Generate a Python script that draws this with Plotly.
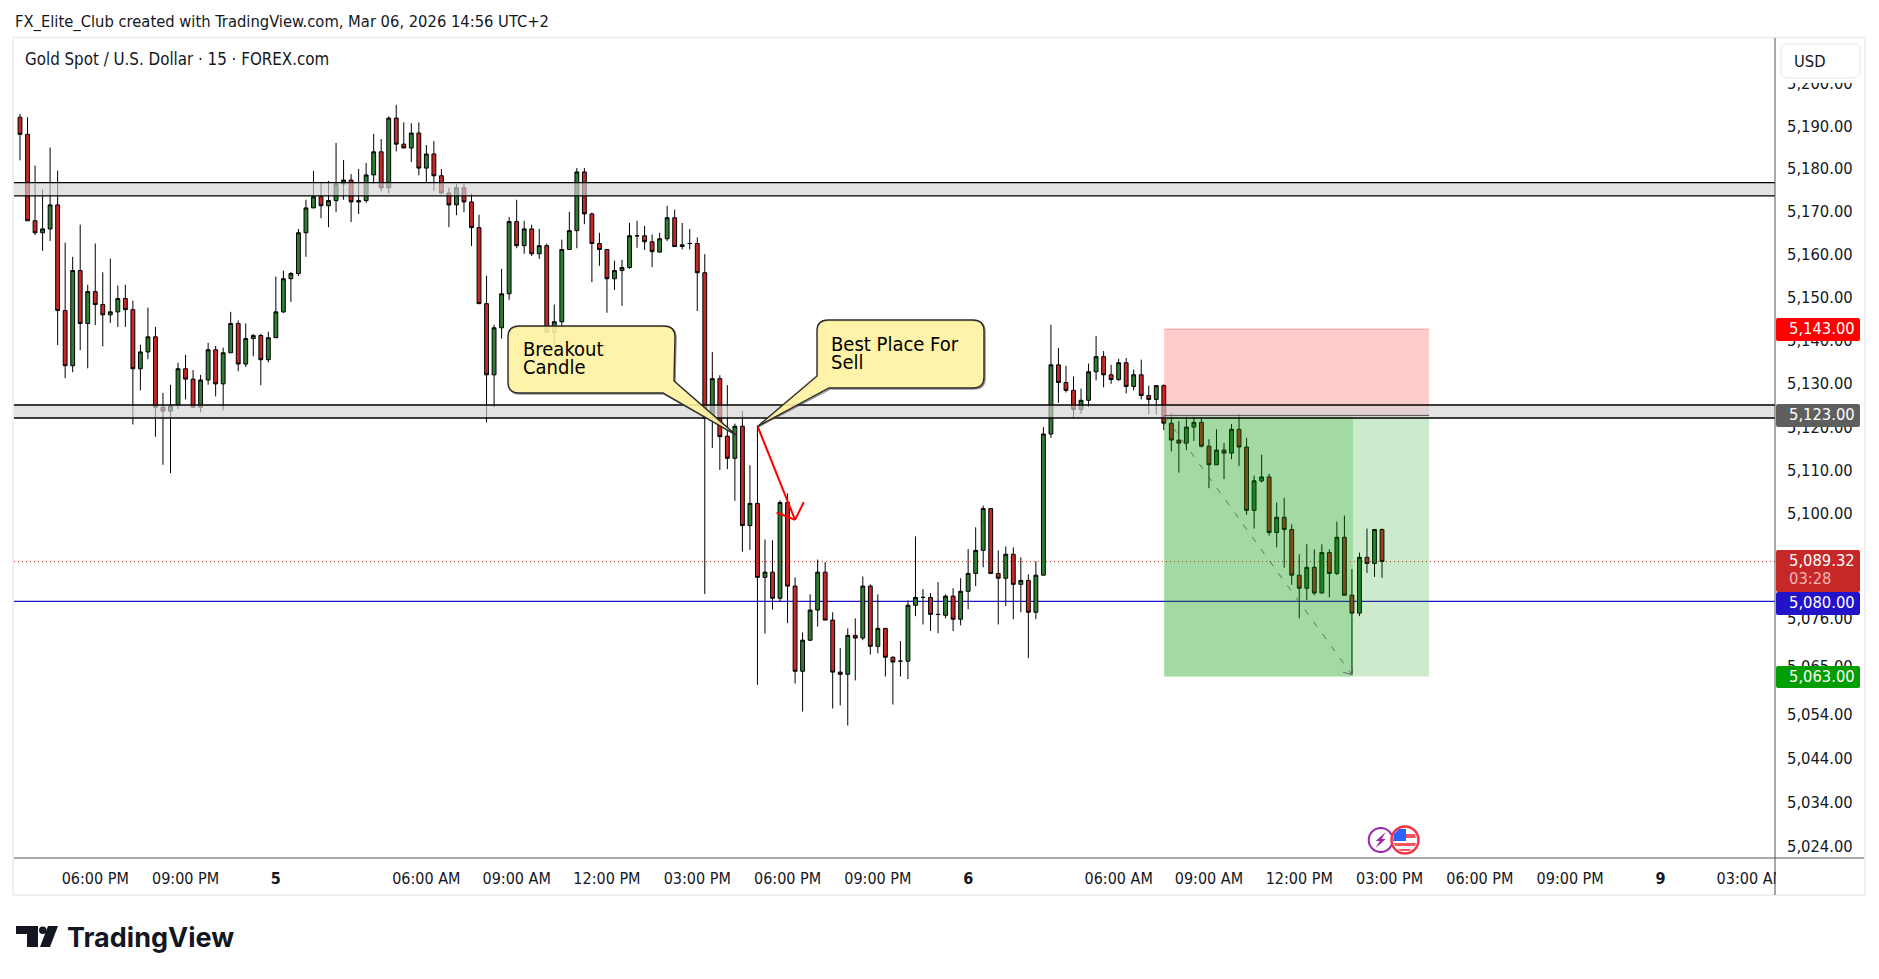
import math
import plotly.graph_objects as go

opens = [5192.4,5188.4,5168.2,5165.4,5166.3,5171.9,5147.3,5134.5,5156.6,5144.3,
5151.7,5148.7,5146.3,5147.0,5150.1,5147.5,5133.8,5137.7,5141.2,5124.9,
5124.0,5125.4,5133.8,5131.4,5124.9,5131.2,5138.2,5130.3,5137.5,5144.3,
5134.9,5140.8,5141.5,5135.9,5141.0,5147.0,5154.7,5155.9,5165.4,5171.2,
5173.8,5171.7,5172.9,5176.8,5177.7,5172.9,5172.9,5178.9,5184.3,5175.9,
5192.2,5186.1,5185.2,5188.7,5180.5,5183.8,5178.7,5174.7,5171.9,5175.9,
5172.6,5166.6,5148.9,5132.4,5143.3,5151.2,5168.0,5162.4,5166.3,5160.5,
5162.4,5142.2,5144.7,5161.5,5165.9,5179.6,5169.8,5162.9,5161.5,5154.7,
5156.6,5157.3,5164.7,5164.7,5163.3,5160.9,5164.0,5168.9,5162.2,5162.9,
5162.9,5156.1,5122.7,5131.5,5118.2,5113.1,5120.5,5097.6,5102.7,5085.7,
5086.9,5080.9,5102.9,5083.7,5064.2,5071.3,5078.2,5086.9,5075.9,5064.0,
5063.5,5072.4,5071.8,5083.7,5069.9,5074.0,5067.4,5066.5,5066.5,5079.3,
5081.1,5081.1,5077.2,5077.0,5081.4,5076.1,5082.5,5086.6,5091.9,5101.5,
5086.6,5085.5,5091.0,5084.1,5085.0,5077.7,5086.2,5118.7,5134.7,5130.6,
5128.8,5124.4,5126.5,5133.1,5136.6,5132.4,5131.3,5135.2,5129.7,5132.4,
5127.6,5126.7,5129.9,5121.2,5117.3,5116.6,5120.3,5121.4,5115.9,5111.6,
5115.0,5114.3,5119.8,5115.7,5101.1,5107.9,5108.8,5096.0,5099.5,5096.7,
5086.2,5083.2,5088.0,5082.1,5091.4,5086.6,5094.9,5081.6,5077.5,5090.3,
5088.9,5096.7]

closes = [5188.4,5168.2,5165.4,5166.3,5171.9,5147.3,5134.5,5156.6,5144.3,5151.7,
5148.7,5146.3,5147.0,5150.1,5147.5,5133.8,5137.7,5141.2,5124.9,5124.0,
5125.2,5133.8,5131.4,5124.9,5131.2,5138.2,5130.3,5137.5,5144.3,5134.9,
5140.8,5141.5,5135.9,5141.0,5147.0,5154.7,5155.9,5165.4,5171.2,5173.8,
5171.7,5172.9,5176.8,5177.7,5172.6,5172.6,5178.9,5184.3,5175.9,5192.2,
5186.1,5185.2,5188.7,5180.5,5183.8,5178.7,5174.7,5171.9,5175.9,5172.6,
5166.6,5148.9,5132.4,5143.3,5151.2,5168.0,5162.4,5166.3,5160.5,5162.4,
5142.2,5144.7,5161.5,5165.9,5179.6,5169.8,5162.9,5161.5,5154.7,5156.6,
5157.3,5164.7,5164.7,5163.3,5161.0,5164.0,5168.9,5162.2,5162.6,5162.9,
5156.1,5122.3,5131.5,5118.1,5113.1,5120.5,5097.6,5102.7,5085.7,5086.9,
5080.9,5102.9,5083.7,5064.2,5071.3,5078.2,5086.9,5075.9,5064.0,5063.5,
5072.4,5071.8,5083.7,5069.9,5074.0,5067.4,5066.3,5066.5,5079.3,5081.1,
5081.1,5077.2,5077.2,5081.4,5076.1,5082.5,5086.6,5091.9,5101.5,5086.6,
5085.5,5091.0,5084.1,5085.0,5077.7,5086.2,5118.7,5134.7,5130.6,5128.8,
5124.4,5126.5,5133.1,5136.6,5132.4,5131.3,5135.2,5129.7,5132.4,5127.6,
5126.7,5129.9,5121.2,5117.3,5116.6,5120.3,5121.4,5115.9,5111.6,5115.0,
5114.3,5119.8,5115.7,5101.1,5107.9,5108.8,5096.0,5099.5,5096.7,5086.2,
5083.2,5088.0,5082.1,5091.4,5086.6,5094.9,5081.6,5077.5,5090.3,5088.9,
5096.7,5089.32]

highs = [5193.2,5192.4,5181.1,5175.5,5185.3,5179.9,5163.1,5159.8,5167.3,5153.3,
5162.9,5156.2,5159.4,5153.1,5153.3,5149.6,5139.4,5148.0,5143.5,5128.2,
5130.1,5135.2,5137.0,5133.5,5132.4,5139.8,5139.1,5138.7,5147.0,5145.0,
5144.3,5141.9,5141.9,5142.4,5155.2,5156.6,5156.3,5166.3,5173.1,5179.8,
5177.0,5177.5,5186.4,5182.4,5179.1,5180.3,5181.7,5188.5,5187.3,5192.6,
5195.3,5191.2,5191.0,5191.2,5185.9,5186.8,5180.3,5175.9,5176.8,5176.8,
5174.5,5169.6,5155.4,5144.0,5157.0,5169.1,5173.1,5168.2,5167.3,5166.3,
5162.9,5148.7,5163.8,5170.3,5180.5,5180.5,5170.1,5165.4,5161.5,5158.9,
5159.1,5167.7,5168.2,5167.0,5165.0,5165.4,5171.7,5170.8,5167.7,5166.3,
5164.3,5160.4,5137.7,5132.3,5130.0,5121.1,5124.0,5111.5,5120.6,5094.4,
5094.2,5103.4,5105.0,5085.7,5073.1,5081.8,5089.8,5089.2,5077.7,5069.5,
5074.0,5076.3,5085.9,5084.1,5081.8,5074.0,5067.6,5071.1,5080.4,5095.1,
5083.0,5082.1,5084.6,5081.8,5083.2,5085.5,5092.2,5097.2,5102.2,5101.5,
5091.9,5092.8,5092.6,5090.3,5086.4,5089.4,5120.3,5144.0,5138.6,5134.5,
5132.0,5129.2,5135.0,5141.4,5137.9,5134.7,5136.1,5136.3,5133.6,5135.9,
5129.9,5129.9,5130.2,5123.5,5121.7,5122.8,5122.8,5122.6,5117.5,5119.8,
5116.6,5121.0,5123.3,5117.8,5109.1,5113.9,5109.5,5102.9,5104.0,5097.9,
5091.0,5093.3,5092.1,5093.3,5092.1,5098.5,5099.9,5087.6,5091.4,5096.9,
5096.7,5096.9]

lows = [5182.3,5168.2,5164.9,5161.2,5163.5,5139.3,5131.6,5133.0,5138.1,5133.9,
5143.9,5139.0,5144.4,5143.5,5143.5,5120.9,5128.8,5136.0,5118.1,5111.6,
5109.7,5124.5,5126.7,5124.9,5123.7,5130.1,5127.4,5124.2,5137.5,5133.2,
5134.2,5136.7,5130.0,5135.3,5141.0,5146.7,5149.3,5155.3,5159.8,5171.2,
5168.8,5166.7,5170.2,5173.1,5167.9,5169.8,5172.4,5176.8,5175.1,5174.6,
5184.4,5185.2,5181.9,5178.8,5177.0,5175.2,5174.4,5166.7,5169.5,5170.2,
5162.3,5148.9,5121.4,5124.9,5140.8,5149.8,5161.8,5160.5,5160.0,5159.3,
5142.2,5138.7,5143.7,5161.5,5161.8,5167.4,5153.9,5157.7,5146.8,5152.1,
5148.4,5157.0,5161.9,5161.4,5157.4,5160.8,5163.5,5162.2,5161.5,5161.5,
5147.2,5081.9,5115.5,5110.4,5110.6,5103.3,5091.6,5092.0,5061.1,5072.8,
5078.3,5080.1,5075.2,5061.4,5055.0,5071.1,5074.4,5075.9,5055.7,5056.4,
5051.8,5062.1,5071.3,5068.0,5068.3,5063.0,5056.6,5063.0,5062.4,5076.8,
5074.9,5073.4,5072.9,5076.3,5073.4,5074.7,5078.4,5083.7,5088.0,5086.6,
5074.9,5079.1,5076.1,5077.7,5067.2,5076.1,5086.2,5117.8,5125.9,5128.3,
5122.4,5123.4,5124.9,5131.1,5129.5,5130.3,5131.0,5128.1,5128.8,5126.7,
5123.2,5123.2,5119.6,5114.7,5109.8,5115.0,5117.1,5115.6,5106.2,5111.6,
5108.3,5112.9,5111.3,5100.1,5096.9,5107.5,5095.3,5092.6,5087.9,5084.0,
5076.3,5080.5,5081.6,5082.1,5081.1,5086.2,5081.6,5063.5,5076.8,5086.7,
5085.8,5085.6]

candle_index = list(range(len(opens)))

time_tick_index = [10, 22, 34, 54, 66, 78, 90, 102, 114, 126, 146, 158, 170, 182, 194, 206, 218, 230]
time_tick_text = ["06:00 PM", "09:00 PM", "<b>5</b>", "06:00 AM", "09:00 AM", "12:00 PM", "03:00 PM",
                  "06:00 PM", "09:00 PM", "<b>6</b>", "06:00 AM", "09:00 AM", "12:00 PM", "03:00 PM",
                  "06:00 PM", "09:00 PM", "<b>9</b>", "03:00 AM"]
price_ticks = [5200, 5190, 5180, 5170, 5160, 5150, 5140, 5130, 5120, 5110, 5100, 5090, 5076, 5065, 5054, 5044, 5034, 5024]
LABEL_NUDGE = 0.35

upper_band = (5174.0, 5177.1)
lower_band = (5122.4, 5125.4)
stop_price, entry_price, target_price = 5143.0, 5123.0, 5063.0
last_price = 5089.32
blue_level = 5080.2

FONT = "DejaVu Sans Condensed"
W, H = 1879, 979
L, R, T, B = 14, 1775, 38, 858
TOP_PRICE, BOTTOM_PRICE = 5211.0, 5021.7
X_LEFT, X_RIGHT = (L - 20.0) / 7.525, (R - 20.0) / 7.525


def px(x):
    return (x - L) / (R - L)


def py(y):
    return (B - y) / (B - T)


def poly(points):
    return "M" + " L".join(f"{px(x):.5f},{py(y):.5f}" for x, y in points) + " Z"


def rr(x0, y0, x1, y1, r):
    P = lambda x, y: f"{px(x):.5f},{py(y):.5f}"
    return ("M" + P(x0 + r, y0) + " L" + P(x1 - r, y0) + " Q" + P(x1, y0) + " " + P(x1, y0 + r)
            + " L" + P(x1, y1 - r) + " Q" + P(x1, y1) + " " + P(x1 - r, y1)
            + " L" + P(x0 + r, y1) + " Q" + P(x0, y1) + " " + P(x0, y1 - r)
            + " L" + P(x0, y0 + r) + " Q" + P(x0, y0) + " " + P(x0 + r, y0) + " Z")


def callout(x0, y0, x1, y1, r, side_join, bottom_join, tip, left=False):
    P = lambda x, y: f"{px(x):.5f},{py(y):.5f}"
    d = "M" + P(x0 + r, y0) + " L" + P(x1 - r, y0) + " Q" + P(x1, y0) + " " + P(x1, y0 + r)
    if left:
        d += " L" + P(x1, y1 - r) + " Q" + P(x1, y1) + " " + P(x1 - r, y1)
        d += " L" + P(*bottom_join) + " L" + P(*tip) + " L" + P(*side_join)
        d += " L" + P(x0, y0 + r) + " Q" + P(x0, y0) + " " + P(x0 + r, y0) + " Z"
    else:
        d += " L" + P(*side_join) + " L" + P(*tip) + " L" + P(*bottom_join)
        d += " L" + P(x0 + r, y1) + " Q" + P(x0, y1) + " " + P(x0, y1 - r)
        d += " L" + P(x0, y0 + r) + " Q" + P(x0, y0) + " " + P(x0 + r, y0) + " Z"
    return d


fig = go.Figure(go.Candlestick(
    x=candle_index, open=opens, high=highs, low=lows, close=closes,
    increasing=dict(fillcolor="#2e7d32", line=dict(color="#000000", width=1)),
    decreasing=dict(fillcolor="#c62828", line=dict(color="#000000", width=1)),
    whiskerwidth=0, showlegend=False, hoverinfo="skip",
))

shapes = []


def hline(price, color, width, dash="solid", x0=X_LEFT, x1=X_RIGHT, layer="above"):
    shapes.append(dict(type="line", xref="x", yref="y", x0=x0, x1=x1, y0=price, y1=price, layer=layer,
                       line=dict(color=color, width=width, dash=dash)))


def rect_data(x0, x1, p0, p1, fill, line=None):
    shapes.append(dict(type="rect", xref="x", yref="y", x0=x0, x1=x1, y0=p0, y1=p1, layer="above",
                       fillcolor=fill, line=dict(color=line or "rgba(0,0,0,0)", width=1)))


def path(d, fill, line="rgba(0,0,0,0)", width=0):
    shapes.append(dict(type="path", xref="paper", yref="paper", path=d, layer="above", fillcolor=fill,
                       line=dict(color=line, width=width)))


# reference levels behind the candles
hline(last_price, "#c62828", 1, "1px,3px", layer="below")
hline(blue_level, "#2212c8", 1.2, layer="below")

# long/short position tool
pos_x0, pos_mid, pos_x1 = 152.05, 177.15, 187.25
rect_data(pos_x0, pos_x1, entry_price, stop_price, "rgba(255,0,0,0.2)")
hline(stop_price, "rgba(255,120,120,0.6)", 1, x0=pos_x0, x1=pos_x1)
rect_data(pos_x0, pos_x1, target_price, entry_price, "rgba(0,150,0,0.2)")
rect_data(pos_x0, pos_mid, target_price, entry_price, "rgba(0,150,0,0.2)")

# grey zones
for lo, hi in (upper_band, lower_band):
    rect_data(X_LEFT, X_RIGHT, lo, hi, "rgba(212,212,212,0.65)")
    hline(lo, "#000000", 1.4)
    hline(hi, "#000000", 1.4)
hline(entry_price, "rgba(70,70,70,0.9)", 1, x0=pos_x0, x1=pos_x1)

# dashed projection of the position
shapes.append(dict(type="line", xref="x", yref="y", x0=pos_x0, y0=entry_price, x1=177.0, y1=5063.4, layer="above",
                   line=dict(color="rgba(90,90,90,0.85)", width=1, dash="6px,9px")))
shapes.append(dict(type="line", xref="x", yref="y", x0=175.8, y0=5064.0, x1=177.0, y1=5063.4, layer="above",
                   line=dict(color="rgba(90,90,90,0.85)", width=1)))
shapes.append(dict(type="line", xref="x", yref="y", x0=177.0, y0=5063.4, x1=177.1, y1=5065.0, layer="above",
                   line=dict(color="rgba(90,90,90,0.85)", width=1)))

# hand drawn red arrow
for (xa, pa, xb, pb) in ((98.0, 5120.6, 103.0, 5098.9), (100.55, 5100.6, 103.0, 5098.9), (104.15, 5103.0, 103.0, 5098.9)):
    shapes.append(dict(type="line", xref="x", yref="y", x0=xa, y0=pa, x1=xb, y1=pb, layer="above",
                       line=dict(color="#ff0000", width=2)))

# callouts
B1 = dict(x0=508, y0=326, x1=675, y1=393, r=11, side_join=(674, 381), bottom_join=(663, 393), tip=(736, 435))
B2 = dict(x0=817, y0=320, x1=984, y1=388, r=11, side_join=(817, 376), bottom_join=(829, 388), tip=(757.5, 426.5))
path(callout(B1["x0"] + 1, B1["y0"] + 1, B1["x1"] + 1, B1["y1"] + 1, 11, (675, 382), (664, 394), (736, 435)), "rgba(0,0,0,0)", "rgba(60,60,60,0.55)", 1.6)
path(callout(**B1), "rgba(255,241,160,0.9)", "#2a2a2a", 1.4)
path(callout(B2["x0"] + 1, B2["y0"] + 1, B2["x1"] + 1, B2["y1"] + 1, 11, (818, 377), (830, 389), (758, 427), left=True), "rgba(0,0,0,0)", "rgba(60,60,60,0.55)", 1.6)
path(callout(left=True, **B2), "rgba(255,241,160,0.9)", "#2a2a2a", 1.4)

# right scale furniture
shapes.append(dict(type="rect", xref="paper", yref="paper", x0=px(1776), x1=px(1864), y0=py(83), y1=py(38),
                   layer="above", fillcolor="#ffffff", line=dict(width=0)))
path(rr(1781, 44, 1860, 78, 6), "#ffffff", "#e4e6ea", 1)
shapes.append(dict(type="rect", xref="paper", yref="paper", x0=px(1776), x1=px(1864), y0=py(894), y1=py(859),
                   layer="above", fillcolor="#ffffff", line=dict(width=0)))
badge_specs = [(318, 341, "#ff0000"), (404, 427, "#5f5f5f"), (550, 592, "#c62828"), (592, 615, "#2212c8"), (666, 688, "#009e00")]
for y0, y1, col in badge_specs:
    path(rr(1776, y0, 1860, y1, 2), col)

# frame and axis lines
shapes.append(dict(type="rect", xref="paper", yref="paper", x0=px(13), x1=px(1865), y0=py(895), y1=py(37.5),
                   layer="above", fillcolor="rgba(0,0,0,0)", line=dict(color="#f0f0f0", width=2)))
shapes.append(dict(type="line", xref="paper", yref="paper", x0=px(1775), x1=px(1775), y0=py(895), y1=py(38),
                   layer="above", line=dict(color="#50535e", width=1)))
shapes.append(dict(type="line", xref="paper", yref="paper", x0=px(14), x1=px(1864), y0=py(858), y1=py(858),
                   layer="above", line=dict(color="#50535e", width=1)))

# event icons
cx1, cx2, cy = 1380.7, 1405.0, 840.0
shapes.append(dict(type="circle", xref="paper", yref="paper", x0=px(cx1 - 12), x1=px(cx1 + 12), y0=py(cy + 12), y1=py(cy - 12),
                   layer="above", fillcolor="#ffffff", line=dict(color="#9c27b0", width=2)))
path(poly([(cx1 + 5, cy - 8), (cx1 - 5, cy + 1), (cx1 - 1, cy + 1), (cx1 - 5, cy + 8), (cx1 + 5, cy - 1), (cx1 + 1, cy - 1)]), "#9c27b0")
shapes.append(dict(type="circle", xref="paper", yref="paper", x0=px(cx2 - 13.5), x1=px(cx2 + 13.5), y0=py(cy + 13.5), y1=py(cy - 13.5),
                   layer="above", fillcolor="#ffffff", line=dict(color="#f23645", width=2.5)))
path(poly([(cx2 + 1, cy - 6), (cx2 + 10, cy - 6), (cx2 + 11, cy - 2), (cx2 + 1, cy - 2)]), "#f7525f")
path(poly([(cx2 - 11, cy + 3), (cx2 + 11, cy + 3), (cx2 + 10, cy + 6), (cx2 - 10, cy + 6)]), "#f7525f")
path(poly([(cx2 - 7, cy + 9), (cx2 + 7, cy + 9), (cx2 + 4, cy + 11), (cx2 - 4, cy + 11)]), "#f7525f")
path(poly([(cx2 - 6, cy - 11), (cx2 + 1, cy - 11), (cx2 + 1, cy + 1), (cx2 - 12, cy + 1), (cx2 - 11, cy - 6)]), "#2962ff")

# TradingView logo
path(poly([(16, 926), (38, 926), (38, 947), (27, 947), (27, 934), (16, 934)]), "#131722")
shapes.append(dict(type="circle", xref="paper", yref="paper", x0=px(39), x1=px(46.5), y0=py(934), y1=py(926.5),
                   layer="above", fillcolor="#131722", line=dict(width=0)))
path(poly([(48, 926), (58, 926), (50, 947), (40, 947)]), "#131722")

annotations = []


def label(x, y, text, size=16.4, color="#131722", anchor="left", family=FONT):
    annotations.append(dict(xref="paper", yref="paper", x=px(x), y=py(y), text=text, showarrow=False,
                            xanchor=anchor, yanchor="middle", align="left",
                            font=dict(family=family, size=size, color=color)))


label(13, 22, "FX_Elite_Club created with TradingView.com, Mar 06, 2026 14:56 UTC+2", 16.4)
label(23, 58.5, "Gold Spot / U.S. Dollar · 15 · FOREX.com", 16.8)
label(520.5, 348.5, "Breakout", 20, "#000000")
label(520.5, 367, "Candle", 20, "#000000")
label(829, 343.5, "Best Place For", 20, "#000000")
label(829, 362, "Sell", 20, "#000000")
label(1792, 61, "USD", 16.4)
label(1787, 328.5, "5,143.00", 16.4, "#ffffff")
label(1787, 414.5, "5,123.00", 16.4, "#ffffff")
label(1787, 560.5, "5,089.32", 16.4, "#ffffff")
label(1787, 579, "03:28", 16.4, "#f0b4b4")
label(1787, 602.5, "5,080.00", 16.4, "#ffffff")
label(1787, 676, "5,063.00", 16.4, "#ffffff")
label(64.5, 937, "<b>TradingView</b>", 27, "#131722", family="Inter")

fig.update_layout(
    width=W, height=H, autosize=False,
    margin=dict(l=L, r=W - R, t=T, b=H - B, pad=0),
    paper_bgcolor="#ffffff", plot_bgcolor="#ffffff",
    font=dict(family=FONT, size=16, color="#131722"),
    boxgap=0.27,
    shapes=shapes, annotations=annotations, showlegend=False,
    xaxis=dict(range=[X_LEFT, X_RIGHT], rangeslider=dict(visible=False), showgrid=False, zeroline=False,
               showline=False, tickmode="array", tickvals=time_tick_index, ticktext=time_tick_text,
               ticks="", ticklabelstandoff=9, tickangle=0, tickfont=dict(family=FONT, size=16, color="#131722")),
    yaxis=dict(type="log", range=[math.log10(BOTTOM_PRICE), math.log10(TOP_PRICE)], side="right", showgrid=False,
               zeroline=False, showline=False, tickmode="array", tickvals=[v + LABEL_NUDGE for v in price_ticks],
               ticktext=[f"{v:,.2f}" for v in price_ticks], ticks="", ticklabelstandoff=11,
               tickfont=dict(family=FONT, size=16.4, color="#131722")),
)

fig.write_html("out.html", include_plotlyjs=True, config={"displayModeBar": False},
               post_script="document.body.style.margin='0';")
